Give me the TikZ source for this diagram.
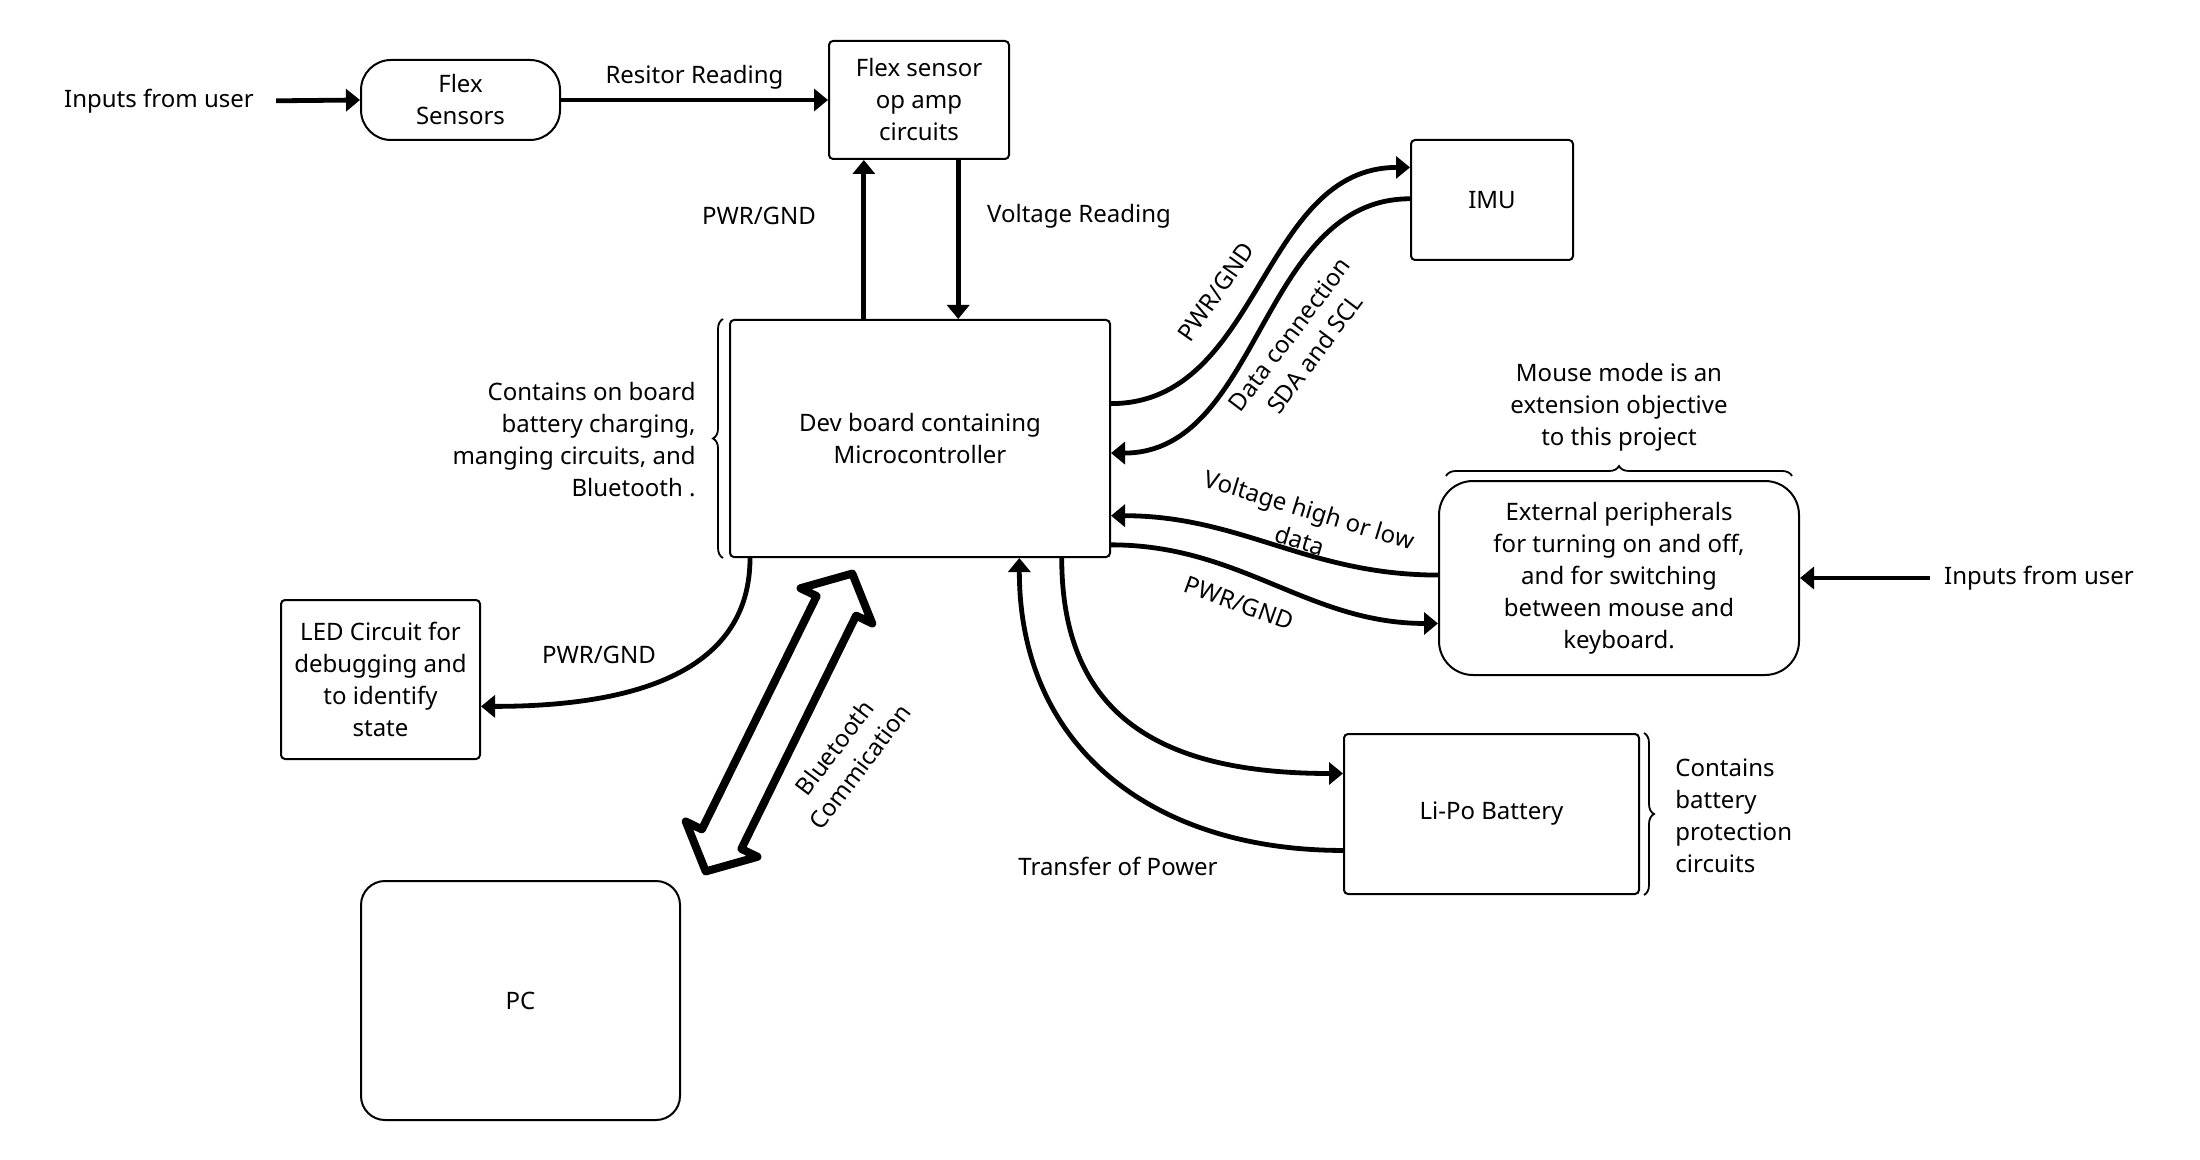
\documentclass[tikz,border=0pt]{standalone}
\usepackage{fontspec}
\setmainfont{Noto Sans}
\usetikzlibrary{calc, positioning, shapes, arrows.meta, decorations.pathreplacing}

\tikzset{
  box/.style={draw, line width=1pt, rounded corners=2pt, align=center, inner sep=2pt},
  roundbox/.style={box, rounded corners=15pt},
  lbl/.style={align=center, inner sep=1pt},
  wire/.style={line width=2.4pt, -{Triangle[length=7pt,width=11pt]}},
  brc/.style={decorate, decoration={brace, amplitude=5pt}, line width=0.9pt},
  hollow/.style={draw, line width=4pt, line join=round},
}

\begin{document}
\begin{tikzpicture}[x=0.5pt, y=-0.5pt, font=\fontsize{12}{16}\selectfont]
\useasboundingbox (0,0) rectangle (2200,1160);

% blocks
\node[roundbox, minimum width=99.5pt, minimum height=40pt] (flex) at (460.5,100) {Flex\\Sensors};
\node[box, minimum width=90pt, minimum height=59pt] (opamp) at (919,100) {Flex sensor\\op amp\\circuits};
\node[box, minimum width=190pt, minimum height=118.5pt] (dev) at (920,438.5) {Dev board containing\\Microcontroller};
\node[box, minimum width=81pt, minimum height=60pt] (imu) at (1492,200) {IMU};
\node[roundbox, rounded corners=17pt, minimum width=180pt, minimum height=97pt] (ext) at (1619,578)
  {External peripherals\\for turning on and off,\\and for switching\\between mouse and\\keyboard.};
\node[box, minimum width=99.5pt, minimum height=79.5pt] (led) at (380.5,679.5) {LED Circuit for\\debugging and\\to identify\\state};
\node[box, rounded corners=12pt, minimum width=159.5pt, minimum height=119.5pt] (pc) at (520.5,1000.5) {PC};
\node[box, minimum width=147.5pt, minimum height=80pt] (lipo) at (1491.5,814) {Li-Po Battery};

% outside texts
\node[lbl] (userL) at (159,101) {Inputs from user};
\node[lbl] (userR) at (2039,578) {Inputs from user};
\node[lbl, anchor=east, align=right] (devnote) at (698,440) {Contains on board\\battery charging,\\manging circuits, and\\Bluetooth .};
\node[lbl] (mousenote) at (1619,407) {Mouse mode is an\\extension objective\\to this project};
\node[lbl, anchor=west, align=left] (lipnote) at (1673,816) {Contains\\battery\\protection\\circuits};

% braces
\draw[brc] ([xshift=-3pt]dev.south west) -- ([xshift=-3pt]dev.north west);
\draw[brc] ([xshift=4pt,yshift=2pt]ext.north west) -- ([xshift=-4pt,yshift=2pt]ext.north east);
\draw[brc] ([xshift=2pt]lipo.north east) -- ([xshift=2pt]lipo.south east);

% connectors
\draw[wire, shorten <=10pt] (userL.east) -- (flex.west);
\draw[wire] (flex.east) -- (opamp.west) node[lbl, midway, above=3pt] (lblres) {Resitor Reading};

\coordinate (d1) at ($(dev.north west)!0.353!(dev.north east)$);
\coordinate (d2) at ($(dev.north west)!0.6!(dev.north east)$);
\draw[wire] (d1) -- (d1 |- opamp.south);
\draw[wire] (d2 |- opamp.south) -- (d2);
\node[lbl] (lblpwr1) at (759,216) {PWR/GND};
\node[lbl] (lblvolt) at (1079,216) {Voltage Reading};

\draw[wire] ($(dev.north east)!0.354!(dev.south east)$) .. controls +(150,0) and +(-150,0) .. ($(imu.north west)!0.233!(imu.south west)$);
\draw[wire] ($(imu.north west)!0.49!(imu.south west)$) .. controls +(-150,0) and +(150,0) .. ($(dev.north east)!0.561!(dev.south east)$);
\node[lbl, rotate=55] (lblpwr2) at (1216,292) {PWR/GND};
\node[lbl, rotate=53] (lbldata) at (1302,344) {Data connection\\SDA and SCL};

\draw[wire] ($(ext.north west)!0.485!(ext.south west)$) .. controls +(-130,0) and +(130,0) .. ($(dev.north east)!0.823!(dev.south east)$);
\draw[wire] ($(dev.north east)!0.945!(dev.south east)$) .. controls +(130,0) and +(-130,0) .. ($(ext.north west)!0.732!(ext.south west)$);
\node[lbl, rotate=-17] (lblhilo) at (1305,525) {Voltage high or low\\data};
\node[lbl, rotate=-20] (lblpwr3) at (1239,603) {PWR/GND};
\draw[wire, shorten <=6pt] (userR.west) -- (ext.east);

\draw[wire] ($(dev.south west)!0.055!(dev.south east)$) .. controls +(0,100) and +(180,0) .. ($(led.north east)!0.667!(led.south east)$);
\node[lbl] (lblpwr4) at (599,655) {PWR/GND};

\draw[wire] ($(dev.south west)!0.871!(dev.south east)$) .. controls +(0,160) and +(-180,0) .. ($(lipo.north west)!0.25!(lipo.south west)$);
\draw[wire] ($(lipo.north west)!0.725!(lipo.south west)$) .. controls +(-190,0) and +(0,190) .. ($(dev.south west)!0.76!(dev.south east)$);
\node[lbl] (lblpower) at (1118,866) {Transfer of Power};

% bluetooth link, hollow double arrow
\begin{scope}[shift={(779,722.5)}, rotate=63.8]
  \draw[hollow] (166,0) -- (130,40) -- (130,22) -- (-130,22) -- (-130,40) -- (-166,0)
    -- (-130,-40) -- (-130,-22) -- (130,-22) -- (130,-40) -- cycle;
\end{scope}
\node[lbl, rotate=53] (lblbt) at (847,757) {Bluetooth\\Commication};
\end{tikzpicture}
\end{document}
